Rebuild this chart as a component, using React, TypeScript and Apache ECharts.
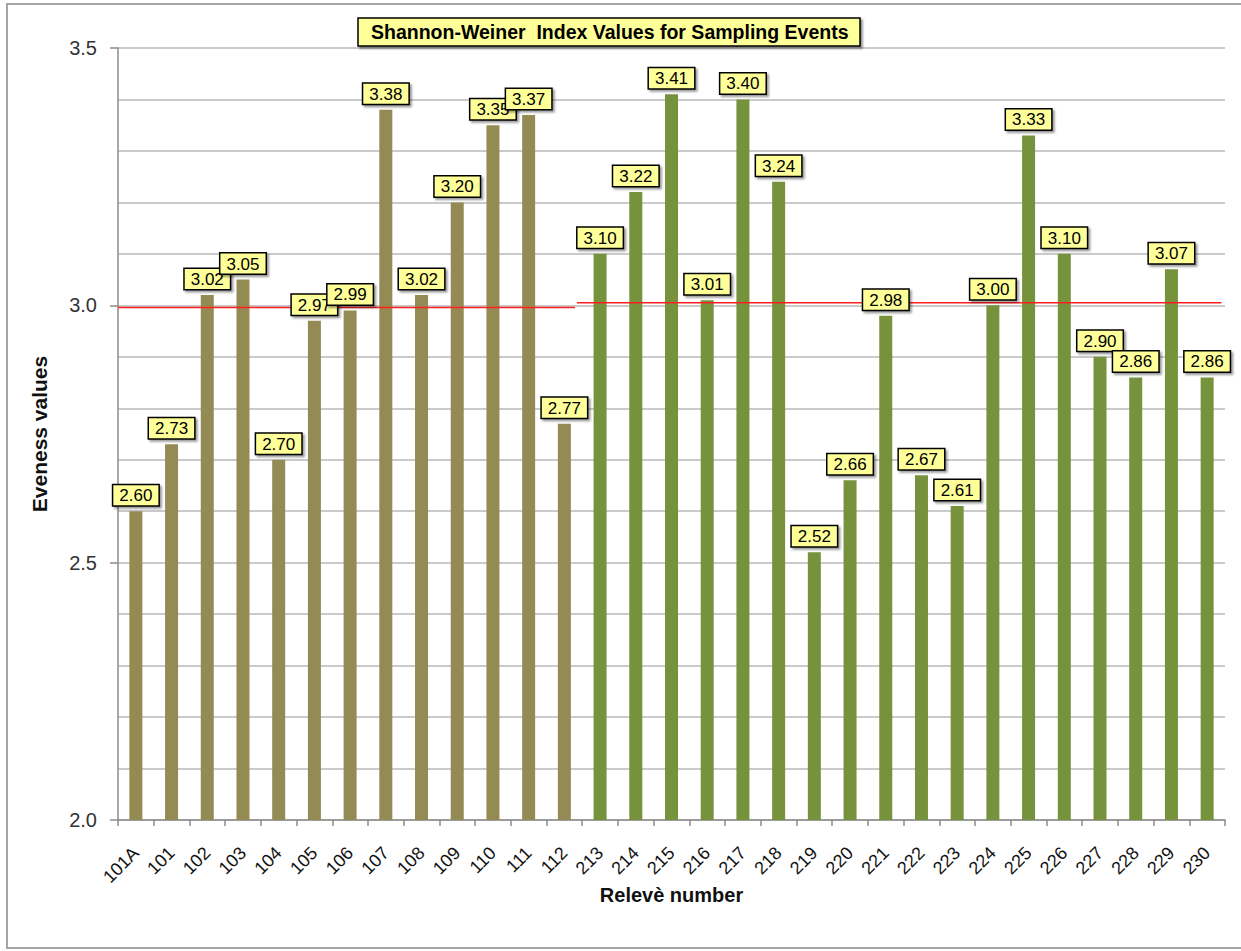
import React, { useEffect, useRef } from "react";
import * as echarts from "echarts";

const groupACategories = ["101A", "101", "102", "103", "104", "105", "106", "107", "108", "109", "110", "111", "112"];
const groupBCategories = ["213", "214", "215", "216", "217", "218", "219", "220", "221", "222", "223", "224", "225", "226", "227", "228", "229", "230"];
const groupAValues = [2.60, 2.73, 3.02, 3.05, 2.70, 2.97, 2.99, 3.38, 3.02, 3.20, 3.35, 3.37, 2.77];
const groupBValues = [3.10, 3.22, 3.41, 3.01, 3.40, 3.24, 2.52, 2.66, 2.98, 2.67, 2.61, 3.00, 3.33, 3.10, 2.90, 2.86, 3.07, 2.86];
// reference (mean) lines: [xStart, xEnd, value] in category units
const meanLineA = [0, 12.8, 2.996];
const meanLineB = [12.85, 30.9, 3.005];
const yTicks = [2.0, 2.5, 3.0, 3.5];

const colorA = "#948A54";
const colorB = "#76923C";

export default function App() {
  const ref = useRef<HTMLDivElement>(null);
  useEffect(() => {
    if (!ref.current) return;
    const chart = echarts.init(ref.current, null, { renderer: "svg" });
    const categories = [...groupACategories, ...groupBCategories];
    const values = [...groupAValues, ...groupBValues];
    const font = "'Liberation Sans', Arial, sans-serif";
    chart.setOption({
      animation: false,
      backgroundColor: "#ffffff",
      textStyle: { fontFamily: font },
      graphic: [
        {
          type: "rect",
          shape: { x: 7, y: 4, width: 1240, height: 944 },
          style: { fill: "none", stroke: "#a6a6a6", lineWidth: 2 },
          silent: true,
        },
      ],
      title: {
        text: "Shannon-Weiner  Index Values for Sampling Events",
        left: 358,
        top: 18,
        backgroundColor: "#FFFF99",
        borderColor: "#000",
        borderWidth: 1.5,
        padding: [4, 12, 4, 13],
        shadowColor: "rgba(0,0,0,0.45)",
        shadowOffsetX: 2,
        shadowOffsetY: 2,
        shadowBlur: 2,
        textStyle: { fontFamily: font, fontSize: 19.5, fontWeight: "bold", color: "#000" },
      },
      grid: { left: 118, right: 16, top: 48, bottom: 131, containLabel: false },
      xAxis: [
        {
          type: "category",
          data: categories,
          name: "Relevè number",
          nameLocation: "middle",
          nameGap: 65,
          nameMoveOverlap: false,
          nameTextStyle: { fontFamily: font, fontSize: 20, fontWeight: "bold", color: "#111" },
          axisLine: { lineStyle: { color: "#8c8c8c", width: 1.5 } },
          axisTick: { show: true, length: 6, lineStyle: { color: "#8c8c8c", width: 1.5 } },
          axisLabel: { rotate: 45, fontSize: 18, color: "#111", margin: 30, fontFamily: font, interval: 0 },
        },
        { type: "value", min: 0, max: 31, show: false },
      ],
      yAxis: {
        type: "value",
        min: 2.0,
        max: 3.5,
        interval: 0.5,
        name: "Eveness values",
        nameLocation: "middle",
        nameGap: 68,
        nameTextStyle: { fontFamily: font, fontSize: 21, fontWeight: "bold", color: "#111" },
        axisLine: { show: true, lineStyle: { color: "#8c8c8c", width: 1.5 } },
        axisTick: { show: true, length: 8, lineStyle: { color: "#8c8c8c", width: 1.5 } },
        axisLabel: {
          fontSize: 20,
          color: "#333",
          margin: 21,
          fontFamily: font,
          formatter: (v: number) => (yTicks.some((t) => Math.abs(t - v) < 1e-6) ? v.toFixed(1) : ""),
        },
        splitLine: { show: true, lineStyle: { color: "#b8b8b8", width: 1.5 } },
        minorTick: { show: false, splitNumber: 5 },
        minorSplitLine: { show: true, lineStyle: { color: "#b8b8b8", width: 1.5 } },
      },
      series: [
        {
          type: "bar",
          data: values,
          barWidth: 13,
          z: 2,
          itemStyle: {
            color: (p: any) => (p.dataIndex < groupAValues.length ? colorA : colorB),
          },
        },
        {
          type: "line",
          xAxisIndex: 1,
          data: [[meanLineA[0], meanLineA[2]], [meanLineA[1], meanLineA[2]]],
          symbol: "none",
          lineStyle: { color: "#ff2020", width: 1.5 },
          z: 3,
        },
        {
          type: "line",
          xAxisIndex: 1,
          data: [[meanLineB[0], meanLineB[2]], [meanLineB[1], meanLineB[2]]],
          symbol: "none",
          lineStyle: { color: "#ff2020", width: 1.5 },
          z: 3,
        },
        {
          type: "bar",
          data: values,
          barWidth: 13,
          barGap: "-100%",
          z: 4,
          itemStyle: { color: "rgba(0,0,0,0)" },
          label: {
            show: true,
            position: "top",
            distance: 6,
            formatter: (p: any) => Number(p.value).toFixed(2),
            fontFamily: font,
            fontSize: 17,
            color: "#000",
            backgroundColor: "#FFFF99",
            borderColor: "#000",
            borderWidth: 1.5,
            padding: [2, 6, 1, 6],
            shadowColor: "rgba(0,0,0,0.4)",
            shadowOffsetX: 2,
            shadowOffsetY: 2,
            shadowBlur: 2,
          },
        },
      ],
    });
    return () => chart.dispose();
  }, []);
  return (
    <div
      ref={ref}
      style={{ position: "fixed", left: 0, top: 0, width: 1241, height: 951, background: "#fff" }}
    />
  );
}
